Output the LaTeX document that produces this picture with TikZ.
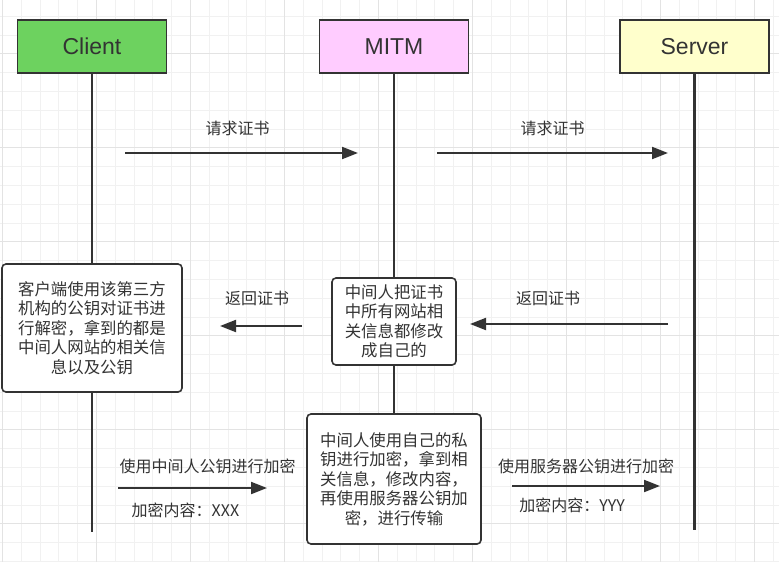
\documentclass[tikz,border=0pt]{standalone}
\usepackage{fontspec}
\setmainfont{Liberation Sans}
\newfontfamily\cjk{Noto Sans CJK SC}
\usetikzlibrary{arrows.meta}
\definecolor{linegray}{HTML}{333333}
\definecolor{clientgreen}{HTML}{6DD25F}
\definecolor{mitmpink}{HTML}{FFCCFF}
\definecolor{serveryellow}{HTML}{FFFFCC}
\definecolor{gridminor}{HTML}{F1F1F1}
\definecolor{gridmajor}{HTML}{E3E3E3}
\tikzset{
  actor/.style={draw=linegray, line width=1.6pt, minimum width=149pt, minimum height=53pt,
    font=\fontsize{23}{27}\selectfont, text=linegray},
  note/.style={draw=linegray, line width=1.6pt, fill=white, rounded corners=4pt, align=center,
    font=\cjk\fontsize{16.4}{19.5}\selectfont, text=linegray, inner sep=0pt},
  lifeline/.style={linegray, line width=2.5pt},
  msg/.style={linegray, line width=2pt, -{Triangle[length=16pt,width=12pt]}},
  lbl/.style={font=\cjk\fontsize{16}{19.5}\selectfont, text=linegray, inner sep=1pt},
}
\begin{document}
\begin{tikzpicture}[x=1pt, y=-1pt]
	\fill[white] (0,0) rectangle (779,562);
	\useasboundingbox (0,0) rectangle (779,562);
	% grid
	\foreach \i in {0,...,41} \draw[gridminor, line width=0.8pt] ({2.3+18.8*\i},0) -- ++(0,562);
	\foreach \i in {0,...,29} \draw[gridminor, line width=0.8pt] (0,{16.1+18.8*\i}) -- ++(779,0);
	\foreach \i in {0,...,8} \draw[gridmajor, line width=0.8pt] ({2.3+94*\i},0) -- ++(0,562);
	\foreach \i in {0,...,5} \draw[gridmajor, line width=0.8pt] (0,{53.7+94*\i}) -- ++(779,0);

	\node[actor, fill=clientgreen] (client) at (92,46.5) {Client};
	\node[actor, fill=mitmpink] (mitm) at (394,46.5) {MITM};
	\node[actor, fill=serveryellow] (server) at (694.5,46.5) {Server};

	% lifelines
	\coordinate (cend) at (92,532);
	\coordinate (mend) at (394,414);
	\coordinate (send) at (694.5,530);
	\draw[lifeline] (client.south) -- (cend);
	\draw[lifeline] (mitm.south) -- (mend);
	\draw[lifeline] (server.south) -- (send);

	% notes
	\node[note, minimum width=180pt, minimum height=128pt] (cnote) at (92,328)
		{客户端使用该第三方\\机构的公钥对证书进\\行解密，拿到的都是\\中间人网站的相关信\\息以及公钥};
	\node[note, minimum width=124pt, minimum height=87pt] (mnote) at (394,321.5)
		{中间人把证书\\中所有网站相\\关信息都修改\\成自己的};
	\node[note, minimum width=174pt, minimum height=130pt] (mnotetwo) at (394,479)
		{中间人使用自己的私\\钥进行加密，拿到相\\关信息，修改内容，\\再使用服务器公钥加\\密，进行传输};

	% messages
	\coordinate (reqa) at (125,153);
	\coordinate (reqb) at (358,153);
	\coordinate (reqc) at (437,153);
	\coordinate (reqd) at (668,153);
	\draw[msg] (reqa) -- node[lbl, yshift=25pt, xshift=-4pt] (reqlbla) {请求证书} (reqb);
	\draw[msg] (reqc) -- node[lbl, yshift=25pt] (reqlblb) {请求证书} (reqd);

	\coordinate (reta) at (302,326);
	\coordinate (retb) at (220,326);
	\coordinate (retc) at (668,324);
	\coordinate (retd) at (470,324);
	\draw[msg] (reta) -- node[lbl, yshift=28pt, xshift=-4pt] (retlbla) {返回证书} (retb);
	\draw[msg] (retc) -- node[lbl, yshift=26pt, xshift=-21pt] (retlblb) {返回证书} (retd);

	\coordinate (enca) at (118,488);
	\coordinate (encb) at (267,488);
	\coordinate (encc) at (512,486);
	\coordinate (encd) at (660,486);
	\draw[msg] (enca) -- node[lbl, yshift=22pt, xshift=15pt] (enclbla) {使用中间人公钥进行加密}
		node[lbl, yshift=-22pt, xshift=-7pt] (xxx) {加密内容：XXX} (encb);
	\draw[msg] (encc) -- node[lbl, yshift=20pt] (enclblb) {使用服务器公钥进行加密}
		node[lbl, yshift=-19pt, xshift=-14pt] (yyy) {加密内容：YYY} (encd);
\end{tikzpicture}
\end{document}
